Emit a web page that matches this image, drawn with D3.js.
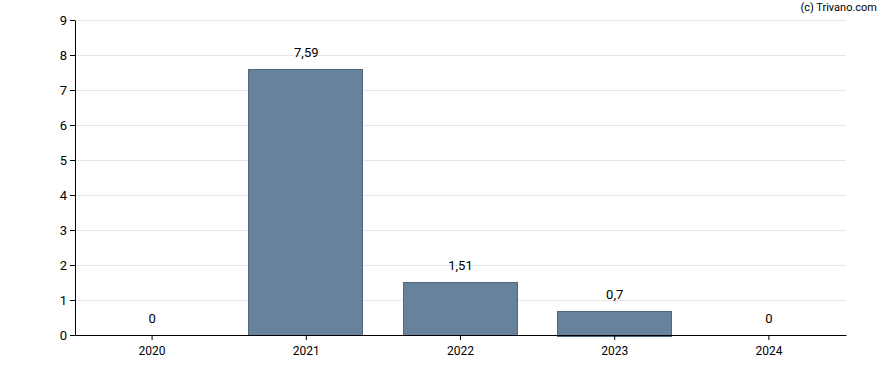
<!DOCTYPE html>
<meta http-equiv="Content-type" content="text/html; charset=UTF-8"/>
<style>
  body { margin: 0; }
  * { font-family: 'Roboto', 'Arial', sans-serif; }
</style>
<svg width="888" height="370"></svg>
<script src="https://d3js.org/d3.v7.min.js"></script>
<script>
var years = ["2020", "2021", "2022", "2023", "2024"];
var values = [0, 7.59, 1.51, 0.7, 0];
var yTicks = [0, 1, 2, 3, 4, 5, 6, 7, 8, 9];

var svg = d3.select("svg"),
    margin = {top: 20, right: 42, bottom: 35, left: 75},
    width = +svg.attr("width") - margin.left - margin.right,
    height = +svg.attr("height") - margin.top - margin.bottom,
    g = svg.append("g").attr("transform", "translate(" + margin.left + "," + margin.top + ")");

var x = d3.scaleBand()
    .domain(years)
    .range([0, width])
    .paddingInner(0.25)
    .paddingOuter(0.125);

var y = d3.scaleLinear()
    .domain([0, 9])
    .range([height, 0]);

var fmt = function(v) { return String(v).replace(".", ","); };

// grid
g.append("g")
  .selectAll("line")
  .data(yTicks.slice(1))
  .enter().append("line")
    .attr("x1", 0)
    .attr("x2", width)
    .attr("y1", function(d) { return Math.round(y(d)) + 0.5; })
    .attr("y2", function(d) { return Math.round(y(d)) + 0.5; })
    .attr("stroke", "#e6e6e6");

g.selectAll(".bar")
  .data(values)
  .enter().append("rect")
    .attr("x", function(d, i) { return Math.round(x(years[i])) + 0.5; })
    .attr("y", function(d) { return Math.round(y(d)) + 0.5; })
    .attr("width", Math.round(x.bandwidth()) - 2)
    .attr("height", function(d) { return Math.round(height - y(d)); })
    .attr("fill", "#67829a")
    .attr("stroke", "#4f6a80")
    .attr("stroke-width", 1)
    .style("display", function(d) { return d > 0 ? null : "none"; });

g.selectAll(".lbl")
  .data(values)
  .enter().append("text")
    .attr("x", function(d, i) { return x(years[i]) + x.bandwidth() / 2; })
    .attr("y", function(d) { return y(d) - 12; })
    .attr("text-anchor", "middle")
    .style("font-size", "13px")
    .attr("fill", "#000")
    .text(fmt);

var xAxis = g.append("g")
    .attr("transform", "translate(0," + height + ")")
    .call(d3.axisBottom(x).tickSize(5).tickSizeOuter(0));
xAxis.selectAll("text").style("font-size", "12px").attr("dy", "1em").attr("fill", "#000");
xAxis.selectAll("line, path").attr("stroke", "#000");

var yAxis = g.append("g")
    .call(d3.axisLeft(y).tickValues(yTicks).tickSize(5).tickSizeOuter(0).tickFormat(d3.format("d")));
yAxis.selectAll("text").style("font-size", "13px").attr("fill", "#000");
yAxis.selectAll("line, path").attr("stroke", "#000");

svg.append("text")
    .attr("x", 877)
    .attr("y", 11)
    .attr("text-anchor", "end")
    .style("font-size", "11px")
    .attr("fill", "#000")
    .text("(c) Trivano.com");
</script>
